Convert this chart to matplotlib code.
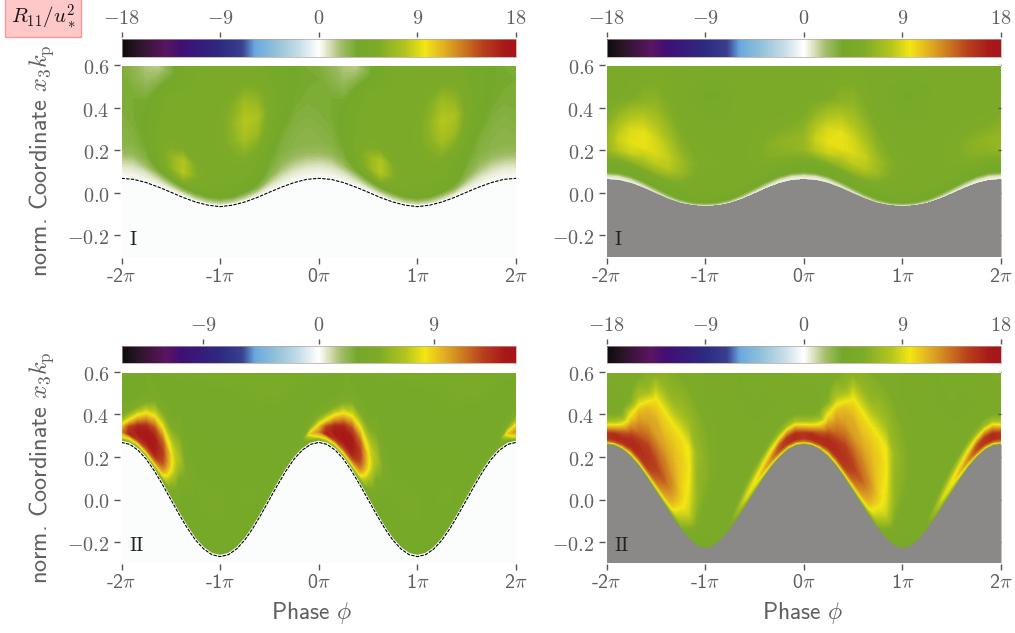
import numpy as np
import matplotlib
matplotlib.use("Agg")
import matplotlib.pyplot as plt
from matplotlib.colors import LinearSegmentedColormap, Normalize
from matplotlib.cm import ScalarMappable
from matplotlib.transforms import ScaledTranslation

plt.rcParams["mathtext.fontset"] = "cm"
plt.rcParams["font.family"] = "cmss10"
plt.rcParams["axes.formatter.use_mathtext"] = True

# colormap (R11 value on a -18..18 bar, colour)
cbar_values = [-18, -16.5, -14, -12.5, -9, -7, -5.8, -4, -1.8, 0, 1, 2, 3.5, 5.5, 8, 9.7, 11.5, 13.5, 15, 17, 18]
cbar_colors = ["#0d0b0c", "#2a1528", "#5a1560", "#3f0f75", "#2d2a80", "#38408f", "#6aa9e0", "#8fc0d8",
               "#c5dde8", "#ffffff", "#d5deb6", "#a4bf6a", "#74a82a", "#7dab27", "#b4c61d", "#f2e613",
               "#e0ae22", "#c87020", "#b8401c", "#a81818", "#a81518"]

# surface height over one wave period
surface_1 = [.068, .063, .048, .027, .003, -.022, -.043, -.058, -.065, -.058, -.043, -.022, .003, .027, .048, .063]
surface_2 = [.066, .062, .048, .026, 0, -.025, -.045, -.056, -.06, -.056, -.045, -.025, 0, .026, .048, .062]
surface_3 = [.268, .259, .232, .19, .134, .069, 0, -.069, -.134, -.19, -.232, -.259,
             -.268, -.259, -.232, -.19, -.134, -.069, 0, .069, .134, .19, .232, .259]
surface_4 = [.26, .255, .235, .2, .155, .1, .04, -.02, -.08, -.135, -.18, -.215,
             -.228, -.215, -.18, -.135, -.08, -.02, .04, .1, .155, .2, .235, .255]

# heights above the surface of each table row
heights_1 = [0, .02, .05, .08, .12, .17, .23, .3, .38, .47, .56, .67]
heights_2 = [0, .008, .018, .03, .045, .07, .1, .14, .19, .25, .32, .4, .52, .66]
heights_3 = [0, .006, .015, .03, .05, .08, .11, .15, .2, .26, .33, .42, .55, .7, .87]
heights_4 = heights_3

# top left panel, one row per height
field_1 = [
    [.2] * 16,
    [.2, .2, .3, .4, .5, .8, 1.2, 1.5, 1.5, 1.5, 1.2, .8, .4, .3, .2, .2],
    [.6, .7, .9, 1.5, 2.5, 3.5, 4, 4.3, 4.3, 4.2, 3.6, 3, 1.5, .9, .7, .6],
    [1.2, 1.3, 2, 3.3, 5, 6, 5, 4.5, 4.4, 4.4, 4.2, 3.8, 2.7, 1.7, 1.3, 1.2],
    [2.2, 2.4, 3, 4.2, 6.2, 8, 5.8, 4.7, 4.5, 4.6, 4.5, 4.2, 3.2, 2.5, 2.2, 2.2],
    [2.8, 2.9, 3.4, 4.6, 6.3, 7.8, 5.6, 4.8, 4.6, 4.9, 4.8, 4.4, 3.5, 3, 2.8, 2.7],
    [2.9, 3.1, 3.6, 4.5, 5.2, 5.2, 5, 4.9, 4.9, 5.4, 6, 5.4, 4, 3.2, 2.9, 2.8],
    [3.1, 3.3, 3.6, 4.4, 4.9, 4.8, 4.8, 4.9, 5.2, 6, 7.4, 6.8, 4.6, 3.6, 3.1, 3],
    [3.3, 3.3, 3.4, 4.2, 4.8, 4.7, 4.7, 4.8, 5.2, 6.3, 8, 7.6, 5, 3.9, 3.4, 3.2],
    [3.3, 2.8, 2.3, 3.3, 4.5, 4.6, 4.6, 4.7, 5, 5.8, 7, 6.2, 4.7, 3.9, 3.5, 3.4],
    [3, 2.3, 1.6, 1.5, 3, 4.3, 4.5, 4.6, 4.7, 4.9, 5.2, 4.8, 4.3, 3.9, 3.5, 3.2],
    [3, 2.3, 1.6, 1.5, 3, 4.3, 4.5, 4.6, 4.7, 4.7, 4.7, 4.5, 4.3, 3.9, 3.5, 3.2],
]

# top right panel, one row per height
field_2 = [
    [.3] * 16,
    [.5, .5, .6, .8, 1, 1.5, 2, 2.5, 2.5, 2.5, 2, 1.5, 1, .8, .6, .5],
    [1, 1, 1.3, 1.8, 2.4, 3, 3.6, 4, 4, 4, 3.6, 3, 2.4, 1.8, 1.3, 1],
    [3, 3, 3.2, 3.5, 3.8, 4.1, 4.2, 4.3, 4.3, 4.3, 4.2, 4.1, 3.8, 3.5, 3.2, 3],
    [4.2, 4.2, 4.2, 4.3, 4.3, 4.3, 4.3, 4.4, 4.4, 4.4, 4.4, 4.3, 4.3, 4.3, 4.2, 4.2],
    [4.3, 4.3, 4.4, 4.5, 4.6, 4.7, 4.6, 4.5, 4.5, 4.6, 4.6, 4.6, 4.5, 4.4, 4.3, 4.3],
    [5.5, 5.8, 6.2, 6.4, 6.5, 6.2, 5.6, 5, 4.8, 4.8, 4.8, 4.8, 4.8, 5, 5.3, 5.4],
    [6.6, 8, 8.6, 8, 8.2, 8, 6.8, 5.6, 5, 5, 5, 5, 5.2, 5.6, 6, 6.2],
    [6.6, 8.6, 9.3, 9.4, 9, 8.4, 7, 5.8, 5.3, 5.1, 5, 5, 5.2, 5.8, 6.2, 6.4],
    [6, 7.8, 9, 9.4, 8.8, 7.8, 6.2, 5.4, 5.1, 5, 5, 5, 5.2, 5.5, 5.5, 5.6],
    [5.3, 6.2, 7.5, 8.2, 7.8, 6.8, 5.6, 5.1, 4.9, 4.8, 4.8, 4.9, 5, 5, 5, 5],
    [4.8, 4.9, 5.3, 6.2, 6.6, 5.8, 5, 4.6, 4.5, 4.5, 4.5, 4.6, 4.7, 4.8, 4.8, 4.8],
    [5, 5, 5, 5.1, 5.4, 5.2, 4.6, 4.4, 4.3, 4.3, 4.4, 4.6, 4.8, 4.9, 5, 5],
    [5.3, 5.3, 5.3, 5.2, 5, 4.8, 4.8, 4.7, 4.7, 4.7, 4.8, 4.9, 5, 5.1, 5.2, 5.3],
]

# bottom left panel, one column per phase step
columns_3 = [
    [2, 3, 5, 8.5, 10.5, 8.5, 5.5, 4, 3.4, 3.5, 3.8, 4, 4, 4, 4],
    [2, 3.5, 6, 8.5, 14, 13, 8.8, 5, 3.5, 3.4, 3.8, 4, 4, 4, 4],
    [2, 3.5, 5, 8.5, 13, 14.6, 14, 9.5, 5, 3.5, 3.5, 4, 4, 4, 4],
    [2, 3.5, 5, 8, 12, 14.3, 14.8, 14, 9.5, 5, 3.4, 4, 4, 4, 4],
    [2, 3.5, 4.5, 7, 11, 14, 14.5, 14.5, 12.5, 8, 4.5, 3.5, 4, 4, 4],
    [1.8, 3.3, 4, 5.5, 8.5, 11, 12.5, 13, 12, 8.8, 5, 3.4, 3.9, 4, 4],
    [1.5, 3, 3.6, 4, 4.5, 5.5, 7, 8.5, 8.8, 7.5, 5, 3.3, 3.6, 4, 4],
    [1.5, 2.8, 3.3, 3.6, 3.7, 3.7, 3.8, 4, 5.5, 6.5, 5.5, 4, 3.4, 4, 4],
    [1.5, 2.5, 3.2, 3.5, 3.5, 3.5, 3.6, 3.7, 3.9, 4.2, 4, 3.6, 3.3, 3.8, 4],
    [1.5, 2.2, 3.1, 3.5, 3.5, 3.5, 3.6, 3.7, 3.7, 3.7, 3.7, 3.6, 3.4, 3.5, 4.2],
    [1.5, 2, 3, 3.4, 3.5, 3.5, 3.6, 3.7, 3.8, 3.8, 3.7, 3.6, 3.4, 3.3, 4.2],
    [1.5, 2, 3, 3.4, 3.5, 3.5, 3.6, 3.7, 3.8, 3.8, 3.7, 3.6, 3.4, 3.3, 4.1],
    [1.5, 2, 3, 3.4, 3.5, 3.5, 3.6, 3.7, 3.8, 3.8, 3.7, 3.6, 3.4, 3.3, 4],
    [1.5, 2, 3, 3.4, 3.5, 3.5, 3.5, 3.6, 3.6, 3.6, 3.6, 3.5, 3.4, 3.4, 4.1],
    [1.5, 2.2, 3.1, 3.5, 3.5, 3.5, 3.5, 3.6, 3.7, 3.7, 3.6, 3.5, 3.4, 3.6, 4.1],
    [1.5, 2.5, 3.2, 3.5, 3.6, 3.6, 3.6, 3.7, 3.8, 3.7, 3.6, 3.5, 3.4, 3.8, 4],
    [1.5, 2.5, 3.3, 3.6, 3.6, 3.6, 3.7, 3.8, 3.7, 3.6, 3.5, 3.4, 3.6, 4, 4],
    [1.5, 2.8, 3.5, 3.7, 3.7, 3.6, 3.6, 3.6, 3.5, 3.5, 3.4, 3.4, 3.9, 4, 4],
    [1.5, 3, 3.6, 3.8, 3.6, 3.5, 3.5, 3.5, 3.5, 3.4, 3.4, 3.6, 4, 4, 4],
    [1.8, 3.3, 3.8, 3.8, 3.6, 3.5, 3.4, 3.4, 3.4, 3.4, 3.5, 3.9, 4, 4, 4],
    [2, 3.5, 4, 3.8, 3.6, 3.5, 3.4, 3.4, 3.4, 3.4, 3.7, 4, 4, 4, 4],
    [2, 3.5, 4, 3.8, 3.7, 3.5, 3.4, 3.4, 3.4, 3.5, 3.8, 4, 4, 4, 4],
    [2, 3.5, 4, 3.8, 3.8, 3.6, 3.5, 3.4, 3.4, 3.5, 3.8, 4, 4, 4, 4],
    [2, 3.2, 4, 6, 9, 5, 4, 3.5, 3.4, 3.5, 3.8, 4, 4, 4, 4],
]

# bottom right panel, one column per phase step
columns_4 = [
    [4.5, 8, 13, 15.5, 15.5, 11, 7, 5, 4.7, 4.8, 5.5, 5.5, 5.5, 5.5, 5.5],
    [4.5, 8, 13.5, 16, 16, 11.5, 7.5, 5, 4.8, 4.8, 5.5, 5.5, 5.5, 5.5, 5.5],
    [4.5, 7, 12, 15.5, 16, 14, 10.5, 6.5, 5, 5, 5.4, 5.5, 5.5, 5.5, 5.5],
    [4.5, 6, 9.5, 13.5, 16, 16, 14.5, 12, 9.5, 5.8, 5.2, 5.5, 5.5, 5.5, 5.5],
    [4.5, 5.5, 9, 13, 15.5, 16, 15.5, 14, 12.5, 11, 7.5, 5.5, 5.5, 5.5, 5.5],
    [4.5, 5.5, 8.5, 12.5, 15, 15.5, 15.5, 15, 13.5, 12, 11, 6.5, 5.5, 5.5, 5.5],
    [4.5, 5.2, 8, 11, 13.5, 14.5, 15, 14.5, 13.5, 12, 11.5, 10, 6, 5.5, 5.5],
    [4.5, 5, 7.5, 10, 12, 13, 14, 13.5, 13, 12, 11, 10, 6.5, 5.5, 5.5],
    [4.5, 5, 6.5, 9, 10.5, 11.5, 12, 12.5, 12, 11.5, 11, 10, 6.5, 5.5, 5.5],
    [4.5, 5, 6, 7, 8, 9, 10, 10.5, 10.5, 10.5, 10.5, 10, 7, 5.5, 5.5],
    [4, 4.5, 4.8, 5, 5.8, 7.5, 8.5, 9, 9.3, 9.6, 9.8, 9.5, 6.8, 5.5, 5.5],
    [4, 4.5, 4.5, 4.5, 4.6, 5, 5.5, 6, 6.5, 6.5, 6.5, 6.8, 6.2, 5.2, 5.2],
    [4, 4.5, 4.5, 4.5, 4.5, 4.6, 4.7, 4.8, 5, 5.6, 6, 6, 5.6, 5, 5],
    [4, 4.5, 4.5, 4.5, 4.5, 4.5, 4.5, 4.6, 4.8, 5, 5.2, 5.2, 5.2, 4.9, 5],
    [4.2, 4.5, 4.6, 4.6, 4.6, 4.6, 4.6, 4.6, 4.7, 4.8, 4.9, 4.9, 4.8, 4.7, 5],
    [4.5, 5, 5.2, 5, 4.8, 4.6, 4.6, 4.6, 4.6, 4.6, 4.7, 4.7, 4.6, 4.6, 5],
    [5, 5.5, 6.5, 7, 6, 5, 4.6, 4.6, 4.6, 4.6, 4.6, 4.6, 4.5, 4.5, 5],
    [5, 6, 7.5, 9, 8, 6, 5, 4.6, 4.6, 4.6, 4.6, 4.5, 4.5, 4.8, 5],
    [5, 6.5, 8, 9.5, 9.3, 7, 5.3, 4.6, 4.6, 4.6, 4.5, 4.5, 4.7, 5, 5],
    [5, 7, 9, 11, 10, 8, 5.5, 4.7, 4.6, 4.5, 4.5, 4.5, 4.9, 5, 5],
    [5, 7.5, 10.5, 12.5, 11, 9, 6, 4.7, 4.6, 4.5, 4.5, 4.6, 5, 5, 5],
    [5, 8, 12, 14.5, 14, 10, 6.5, 4.8, 4.6, 4.5, 4.6, 5, 5, 5, 5],
    [5, 8, 12.5, 15.5, 15.5, 11.5, 7, 5, 4.6, 4.6, 4.8, 5.2, 5.2, 5.2, 5.2],
    [5, 8, 13, 16, 16, 12, 7.5, 5, 4.7, 4.7, 5.2, 5.4, 5.4, 5.4, 5.4],
]

phase_ticks = [-2, -1, 0, 1, 2]
phase_labels = [r"-2$\pi$", r"-1$\pi$", r"0$\pi$", r"1$\pi$", r"2$\pi$"]
height_ticks = [-0.2, 0.0, 0.2, 0.4, 0.6]
height_labels = [r"$-0.2$", r"$0.0$", r"$0.2$", r"$0.4$", r"$0.6$"]
bar_ticks_full = [-18, -9, 0, 9, 18]
bar_ticks_short = [-9, 0, 9]

GRAY_TEXT = "#5f5f5f"
WATER_WHITE = "#fbfdfd"
WATER_GRAY = "#8b8987"
W, H = 1015, 633
PX_PER_UNIT = 213  # image pixels for one unit of x3*kp


def make_cmap():
    stops = [(v + 18) / 36 for v in cbar_values]
    return LinearSegmentedColormap.from_list("r11", list(zip(stops, cbar_colors)), N=512)


def draw_panel(fig, cmap, left, top, bottom, bar_top, vmax, surface, heights, field, water, tag,
               bar_ticks, dashed=False, ylabel=False, xlabel_x=None):
    width = 394.5
    ax = fig.add_axes([left / W, 1 - bottom / H, width / W, (bottom - top) / H])
    cax = fig.add_axes([left / W, 1 - (bar_top + 17.5) / H, width / W, 17.5 / H])

    # field rows follow the wave, repeated over the two periods shown
    field = np.array(field, dtype=float)
    surface = np.array(surface, dtype=float)
    field = np.hstack([field, field, field[:, :1]])
    surface = np.concatenate([surface, surface, surface[:1]])
    phase = np.linspace(-2, 2, len(surface))
    X, Y = np.meshgrid(phase, heights)
    Y = Y + surface

    levels = np.linspace(-vmax, vmax, 241)
    ax.set_facecolor(water)
    ax.contourf(X, Y, field, levels=levels, cmap=cmap, extend="both", antialiased=False)
    ax.fill_between(phase, -0.4, surface, color=water, lw=0, zorder=3)
    # the image stops a little below the 0.6 tick
    ax.axhspan(0.595, 0.7, color="white", lw=0, zorder=3)
    if dashed:
        ax.plot(phase, surface + 0.004, color="white", lw=1.2, zorder=4)
        ax.plot(phase, surface, color="black", lw=0.8, ls=(0, (3, 1.2)), zorder=5)

    ax.set_xlim(-2, 2)
    ax.set_ylim(0.6 - (bottom - top) / PX_PER_UNIT, 0.6)
    for name, side in ax.spines.items():
        side.set_visible(False)
    ax.spines["left"].set_position(("outward", 1.4))
    ax.spines["bottom"].set_position(("outward", 1.4))
    ax.set_xticks(phase_ticks)
    ax.set_xticklabels(phase_labels)
    ax.set_yticks(height_ticks)
    ax.set_yticklabels(height_labels)
    ax.tick_params(axis="both", length=4.3, width=1, color="#555555", labelcolor=GRAY_TEXT,
                   labelsize=14.5, pad=3)
    # labels sit a bit lower than their ticks in the reference
    for lab in ax.get_yticklabels():
        lab.set_transform(lab.get_transform() + ScaledTranslation(0, -0.02, fig.dpi_scale_trans))
    ax.text(0.02, 0.082, tag, transform=ax.transAxes, family="cmr10", fontsize=14,
            color="#222222", va="center", zorder=6)
    if water == WATER_GRAY:
        ax.tick_params(axis="y", which="both", right=True)
        for tick in ax.yaxis.get_major_ticks():
            tick.tick2line.set_markersize(2.5)
            tick.tick2line.set_marker(0)
            tick.tick2line.set_zorder(7)
    if ylabel:
        fig.text(42 / W, 1 - (top + 96) / H, r"norm. Coordinate $x_3k_{\rm p}$", rotation=90,
                 ha="center", va="center", fontsize=17.5, color=GRAY_TEXT)
    if xlabel_x is not None:
        fig.text(xlabel_x / W, 1 - 613 / H, r"Phase $\phi$", ha="center", va="center",
                 fontsize=17, color=GRAY_TEXT)

    sm = ScalarMappable(norm=Normalize(-vmax, vmax), cmap=cmap)
    bar = fig.colorbar(sm, cax=cax, orientation="horizontal")
    bar.set_ticks(bar_ticks)
    bar.set_ticklabels([f"${t}$" for t in bar_ticks])
    cax.xaxis.set_ticks_position("top")
    cax.spines["top"].set_position(("outward", 1.4))
    cax.tick_params(length=3.8, width=1, color="#555555", labelcolor=GRAY_TEXT, labelsize=14.5, pad=3)
    bar.outline.set_linewidth(0.5)
    bar.outline.set_edgecolor("#b9a0a0")


def main():
    fig = plt.figure(figsize=(W / 100, H / 100), dpi=100)
    cmap = make_cmap()

    draw_panel(fig, cmap, 121.5, 65, 256, 39.3, 18, surface_1, heights_1, field_1, WATER_WHITE, "I",
               bar_ticks_full, dashed=True, ylabel=True)
    draw_panel(fig, cmap, 606.5, 65, 256, 39.3, 18, surface_2, heights_2, field_2, WATER_GRAY, "I",
               bar_ticks_full)
    draw_panel(fig, cmap, 121.5, 371.7, 561.7, 346, 15.4, surface_3, heights_3, np.array(columns_3).T,
               WATER_WHITE, "II", bar_ticks_short, dashed=True, ylabel=True, xlabel_x=312)
    draw_panel(fig, cmap, 606.5, 371.7, 561.7, 346, 18, surface_4, heights_4, np.array(columns_4).T,
               WATER_GRAY, "II", bar_ticks_full, xlabel_x=803)

    fig.text(43 / W, 1 - 16.5 / H, r"$R_{11}/u_*^2$", ha="center", va="center", fontsize=15,
             color="#111111",
             bbox=dict(boxstyle="square,pad=0.28", facecolor="#ffc8c8", edgecolor="#f49a9a", lw=1))

    fig.savefig("out.png", dpi=100)


if __name__ == "__main__":
    main()
